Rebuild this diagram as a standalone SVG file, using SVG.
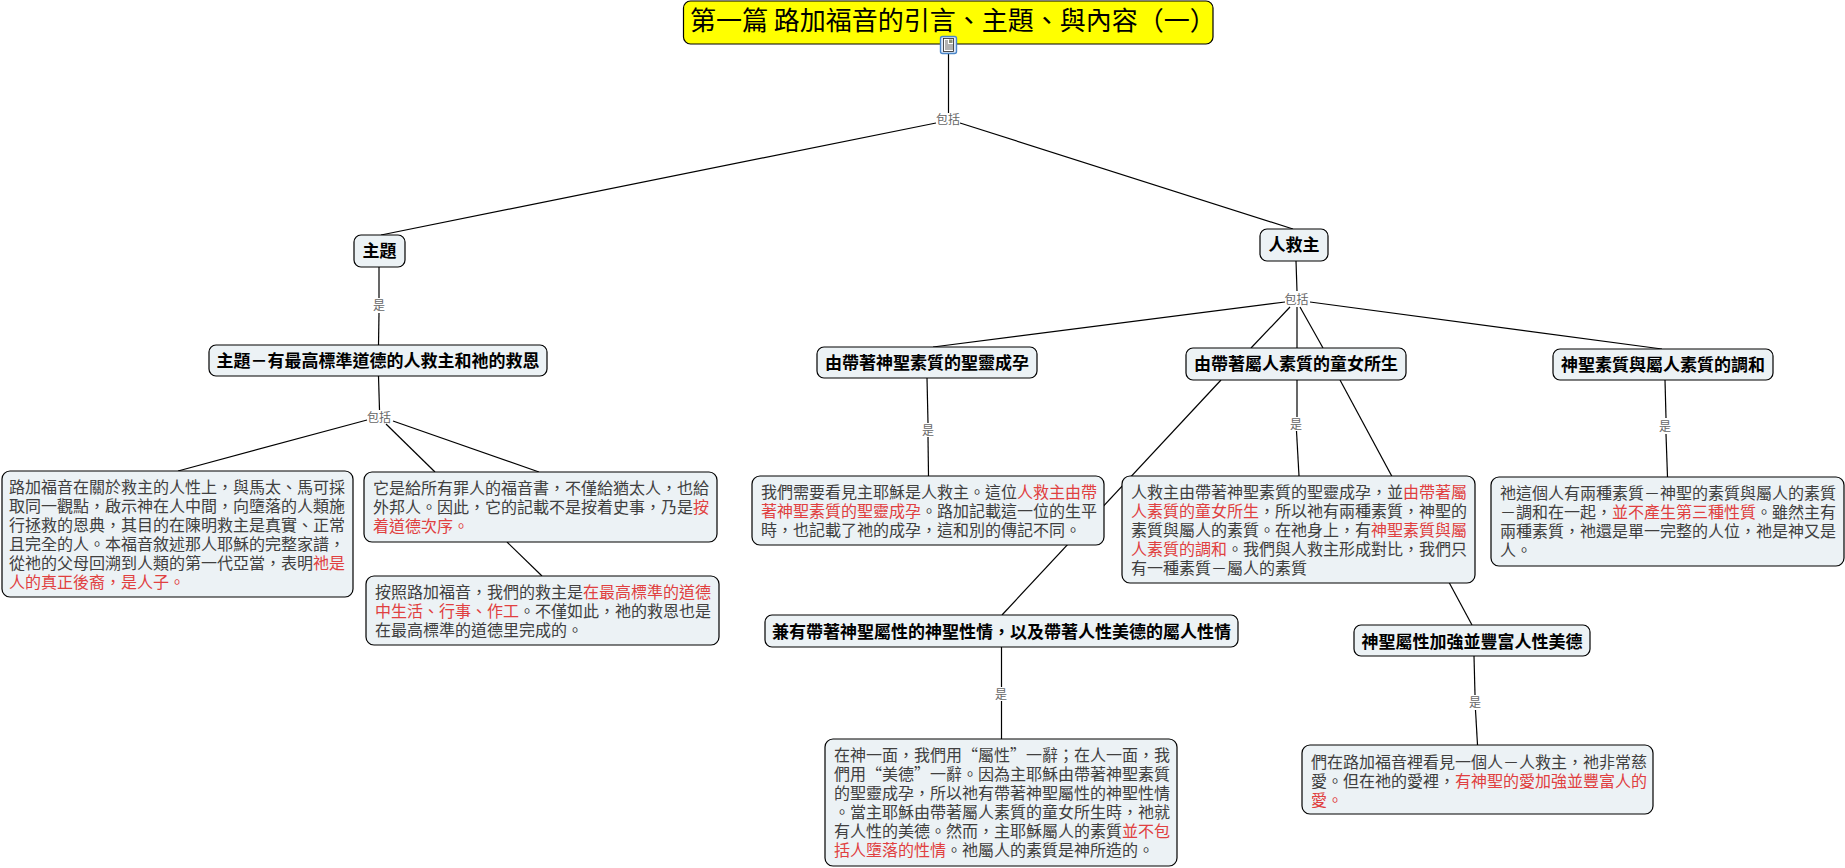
<svg xmlns="http://www.w3.org/2000/svg" width="1845" height="868" viewBox="0 0 1845 868">
<style>
text{font-family:"Noto Sans CJK TC","Noto Sans CJK SC",sans-serif}
.box{fill:#ecf2f5;stroke:#000;stroke-width:1.2}
.t{font-size:16px;fill:#404040}
.r{fill:#e04040}
.h{font-size:17px;font-weight:700;fill:#000;text-anchor:middle}
.l{font-size:12px;fill:#666;text-anchor:middle}
#connectors line{stroke:#000;stroke-width:1.2;fill:none}
</style>
<rect width="1845" height="868" fill="#fff"/>
<g id="connectors">
<line x1="948.5" y1="53" x2="948.5" y2="113"/>
<line x1="936" y1="123" x2="381" y2="235"/>
<line x1="960" y1="123" x2="1293" y2="229"/>
<line x1="379" y1="267" x2="379" y2="298"/>
<line x1="379" y1="313" x2="378.5" y2="345"/>
<line x1="378.5" y1="376" x2="379.5" y2="410"/>
<line x1="367" y1="420" x2="178" y2="471"/>
<line x1="386" y1="424" x2="435" y2="472"/>
<line x1="393" y1="421" x2="539" y2="472"/>
<line x1="507" y1="542" x2="542" y2="576"/>
<line x1="1296" y1="261" x2="1297" y2="291"/>
<line x1="1285" y1="302" x2="933" y2="347"/>
<line x1="1290" y1="307" x2="1251" y2="348"/>
<line x1="1297" y1="307" x2="1297" y2="348"/>
<line x1="1300" y1="307" x2="1323" y2="348"/>
<line x1="1310" y1="302" x2="1662" y2="349"/>
<line x1="1221" y1="380" x2="1002" y2="615"/>
<line x1="1297" y1="380" x2="1297" y2="417"/>
<line x1="1296.5" y1="431" x2="1299" y2="476"/>
<line x1="1340" y1="380" x2="1472" y2="625"/>
<line x1="927" y1="378" x2="928" y2="423"/>
<line x1="928" y1="437" x2="928.5" y2="476"/>
<line x1="1665" y1="380" x2="1666" y2="418"/>
<line x1="1666" y1="434" x2="1667.5" y2="477"/>
<line x1="1001.5" y1="647" x2="1001.5" y2="687"/>
<line x1="1001.5" y1="701" x2="1001.5" y2="739"/>
<line x1="1474" y1="656" x2="1475" y2="695"/>
<line x1="1475.5" y1="710" x2="1477.5" y2="745"/>
</g>
<g id="connector-labels">
<text class="l" x="948" y="124">包括</text>
<text class="l" x="379" y="310">是</text>
<text class="l" x="379" y="422">包括</text>
<text class="l" x="1296.5" y="304">包括</text>
<text class="l" x="1296" y="429">是</text>
<text class="l" x="928" y="435">是</text>
<text class="l" x="1665" y="431">是</text>
<text class="l" x="1001" y="699">是</text>
<text class="l" x="1475" y="707">是</text>
</g>
<g id="n-title">
<rect x="683.5" y="1" width="529.5" height="43" rx="7" fill="#ffff00" stroke="#000" stroke-width="1.2"/>
<text x="690" y="30" font-size="26" fill="#000">第一篇 路加福音的引言、主題、與內容（一）</text>
<rect x="940.5" y="36.5" width="16" height="17" rx="2" fill="#dfeafa" stroke="#4a86c8" stroke-width="1.4"/>
<rect x="943.5" y="38.5" width="10" height="13" fill="#fff" stroke="#222" stroke-width="0.8"/>
<rect x="949" y="39.5" width="3.5" height="3.5" fill="#8a8f7a"/>
<path d="M945 41h3M945 43h3M945 45h8M945 47h8M945 49h8" stroke="#222" stroke-width="0.7" fill="none"/>
</g>
<g id="n-theme">
<rect class="box" x="354" y="235" width="51" height="32" rx="7"/>
<text class="h" x="379.5" y="257">主題</text>
</g>
<g id="n-theme-def">
<rect class="box" x="209" y="345" width="338" height="31" rx="7"/>
<text class="h" x="378" y="367">主題－有最高標準道德的人救主和祂的救恩</text>
</g>
<g id="n-luke">
<rect class="box" x="2" y="471" width="351" height="126" rx="8"/>
<text class="t" x="9" y="493">路加福音在關於救主的人性上，與馬太、馬可採</text>
<text class="t" x="9" y="512">取同一觀點，啟示神在人中間，向墮落的人類施</text>
<text class="t" x="9" y="531">行拯救的恩典，其目的在陳明救主是真實、正常</text>
<text class="t" x="9" y="550">且完全的人。本福音敘述那人耶穌的完整家譜，</text>
<text class="t" x="9" y="569">從祂的父母回溯到人類的第一代亞當，表明<tspan class="r">祂是</tspan></text>
<text class="t r" x="9" y="588">人的真正後裔，是人子。</text>
</g>
<g id="n-gospel">
<rect class="box" x="364" y="472" width="353" height="70" rx="8"/>
<text class="t" x="373" y="494">它是給所有罪人的福音書，不僅給猶太人，也給</text>
<text class="t" x="373" y="513">外邦人。因此，它的記載不是按着史事，乃是<tspan class="r">按</tspan></text>
<text class="t r" x="373" y="532">着道德次序。</text>
</g>
<g id="n-standard">
<rect class="box" x="366" y="576" width="353" height="69" rx="8"/>
<text class="t" x="375" y="598">按照路加福音，我們的救主是<tspan class="r">在最高標準的道德</tspan></text>
<text class="t" x="375" y="617"><tspan class="r">中生活、行事、作工</tspan>。不僅如此，祂的救恩也是</text>
<text class="t" x="375" y="636">在最高標準的道德里完成的。</text>
</g>
<g id="n-savior">
<rect class="box" x="1260" y="229" width="68" height="32" rx="7"/>
<text class="h" x="1294" y="251">人救主</text>
</g>
<g id="n-conceived">
<rect class="box" x="817" y="347" width="220" height="31" rx="7"/>
<text class="h" x="927" y="369">由帶著神聖素質的聖靈成孕</text>
</g>
<g id="n-born">
<rect class="box" x="1186" y="348" width="220" height="32" rx="7"/>
<text class="h" x="1296" y="370">由帶著屬人素質的童女所生</text>
</g>
<g id="n-mingled">
<rect class="box" x="1553" y="349" width="220" height="31" rx="7"/>
<text class="h" x="1663" y="371">神聖素質與屬人素質的調和</text>
</g>
<g id="n-conceived-text">
<rect class="box" x="752" y="476" width="352" height="69" rx="8"/>
<text class="t" x="761" y="498">我們需要看見主耶穌是人救主。這位<tspan class="r">人救主由帶</tspan></text>
<text class="t" x="761" y="517"><tspan class="r">著神聖素質的聖靈成孕</tspan>。路加記載這一位的生平</text>
<text class="t" x="761" y="536">時，也記載了祂的成孕，這和別的傳記不同。</text>
</g>
<g id="n-born-text">
<rect class="box" x="1122" y="476" width="353" height="107" rx="8"/>
<text class="t" x="1131" y="498">人救主由帶著神聖素質的聖靈成孕，並<tspan class="r">由帶著屬</tspan></text>
<text class="t" x="1131" y="517"><tspan class="r">人素質的童女所生</tspan>，所以祂有兩種素質，神聖的</text>
<text class="t" x="1131" y="536">素質與屬人的素質。在祂身上，有<tspan class="r">神聖素質與屬</tspan></text>
<text class="t" x="1131" y="555"><tspan class="r">人素質的調和</tspan>。我們與人救主形成對比，我們只</text>
<text class="t" x="1131" y="574">有一種素質－屬人的素質</text>
</g>
<g id="n-mingled-text">
<rect class="box" x="1491" y="477" width="353" height="89" rx="8"/>
<text class="t" x="1500" y="499">祂這個人有兩種素質－神聖的素質與屬人的素質</text>
<text class="t" x="1500" y="518">－調和在一起，<tspan class="r">並不產生第三種性質</tspan>。雖然主有</text>
<text class="t" x="1500" y="537">兩種素質，祂還是單一完整的人位，祂是神又是</text>
<text class="t" x="1500" y="556">人。</text>
</g>
<g id="n-character">
<rect class="box" x="765" y="615" width="473" height="32" rx="7"/>
<text class="h" x="1001.5" y="638">兼有帶著神聖屬性的神聖性情，以及帶著人性美德的屬人性情</text>
</g>
<g id="n-character-text">
<rect class="box" x="825" y="739" width="352" height="127" rx="8"/>
<text class="t" x="834" y="761">在神一面，我們用“屬性”一辭；在人一面，我</text>
<text class="t" x="834" y="780">們用“美德”一辭。因為主耶穌由帶著神聖素質</text>
<text class="t" x="834" y="799">的聖靈成孕，所以祂有帶著神聖屬性的神聖性情</text>
<text class="t" x="834" y="818">。當主耶穌由帶著屬人素質的童女所生時，祂就</text>
<text class="t" x="834" y="837">有人性的美德。然而，主耶穌屬人的素質<tspan class="r">並不包</tspan></text>
<text class="t" x="834" y="856"><tspan class="r">括人墮落的性情</tspan>。祂屬人的素質是神所造的。</text>
</g>
<g id="n-strength">
<rect class="box" x="1354" y="625" width="236" height="31" rx="7"/>
<text class="h" x="1472" y="648">神聖屬性加強並豐富人性美德</text>
</g>
<g id="n-strength-text">
<rect class="box" x="1302" y="745" width="351" height="69" rx="8"/>
<text class="t" x="1311" y="768">們在路加福音裡看見一個人－人救主，祂非常慈</text>
<text class="t" x="1311" y="787">愛。但在祂的愛裡，<tspan class="r">有神聖的愛加強並豐富人的</tspan></text>
<text class="t r" x="1311" y="806">愛。</text>
</g>
</svg>
